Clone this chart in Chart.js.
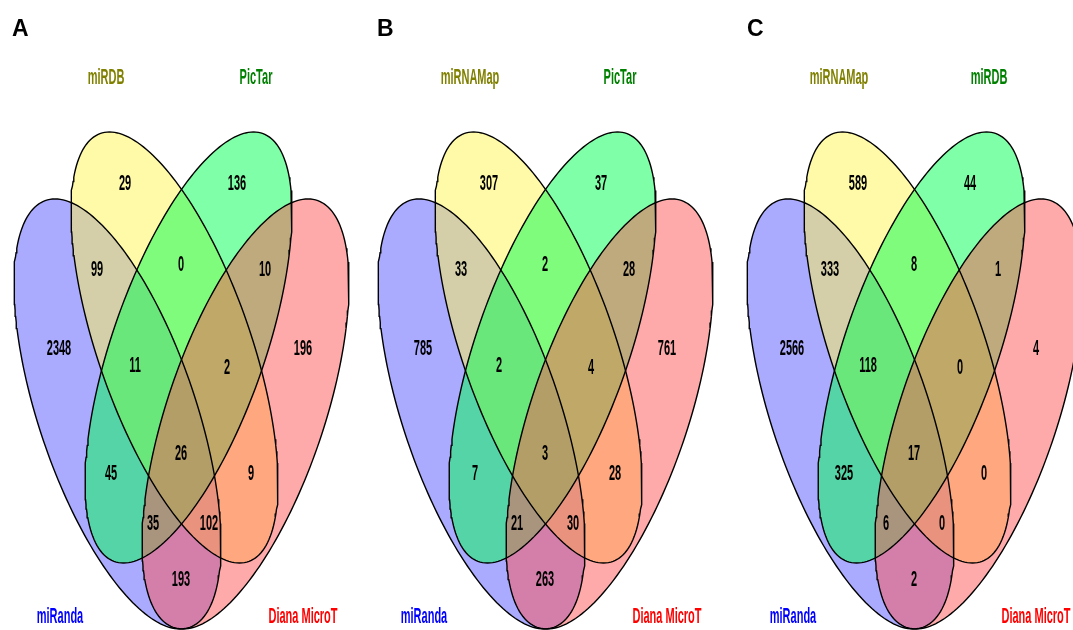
<!DOCTYPE html>
<html>
<head>
<meta charset="utf-8">
<script src="https://cdn.jsdelivr.net/npm/chart.js@4.4.0/dist/chart.umd.min.js"></script>
<style>
html, body { margin: 0; padding: 0; background: #fff; overflow: hidden; }
#wrap { position: relative; width: 1073px; height: 630px; overflow: hidden; }
#wrap canvas { position: absolute; top: 0; }
.tag { position: absolute; top: 17px; font: bold 23px "Liberation Sans", Arial, sans-serif; line-height: 23px; }
</style>
</head>
<body>
<div id="wrap">
  <canvas id="vennA" width="364" height="630" style="left:0px"></canvas>
  <canvas id="vennB" width="364" height="630" style="left:364px"></canvas>
  <canvas id="vennC" width="364" height="630" style="left:733px"></canvas>
  <div class="tag" style="left:12px">A</div>
  <div class="tag" style="left:377px">B</div>
  <div class="tag" style="left:747px">C</div>
</div>
<script>
// set names per panel: outer-left, inner-left, inner-right, outer-right
const setsA = ["miRanda", "miRDB", "PicTar", "Diana MicroT"];
const setsB = ["miRanda", "miRNAMap", "PicTar", "Diana MicroT"];
const setsC = ["miRanda", "miRNAMap", "miRDB", "Diana MicroT"];

// region order (1=outer-left, 2=inner-left, 3=inner-right, 4=outer-right)
const regions = ["1", "2", "3", "4", "12", "23", "34", "123", "234", "13", "1234", "24", "134", "124", "14"];
const countsA = [2348, 29, 136, 196, 99, 0, 10, 11, 2, 45, 26, 9, 35, 102, 193];
const countsB = [785, 307, 37, 761, 33, 2, 28, 2, 4, 7, 3, 28, 21, 30, 263];
const countsC = [2566, 589, 44, 4, 333, 8, 1, 118, 0, 325, 17, 0, 6, 0, 2];

// layout, in panel fractions (x right, y up)
const W = 364, H = 630;
const u = (px, py) => ({x: px / W, y: 1 - py / H});
const regionPos = [[59,349],[125,184],[237,184],[303,349],[97,270],[181,265],[265,270],[135,366],[227,368],[111,474],[181,454],[251,474],[153,524],[209,524],[181,580]].map(p => u(p[0], p[1]));
const namePos = [[60,617],[106,78],[256,78],[303,617]].map(p => u(p[0], p[1]));
const nameColors = ["#0000ff", "#808000", "#008000", "#ff0000"];

const ellipses = [
  {cx: 0.3228, cy: 0.3429, p: -0.1717, w: 0.2266, h: 0.3413, fill: "rgba(85,85,255,0.5)"},
  {cx: 0.4794, cy: 0.4484, p: -0.1786, w: 0.2212, h: 0.3421, fill: "rgba(255,245,81,0.5)"},
  {cx: 0.5179, cy: 0.4484, p: 0.1786, w: 0.2212, h: 0.3421, fill: "rgba(0,255,80,0.5)"},
  {cx: 0.6745, cy: 0.3429, p: 0.1717, w: 0.2266, h: 0.3413, fill: "rgba(255,85,85,0.5)"}
];

function ellipsePoints(e) {
  let pts = [];
  for (let i = 0; i <= 200; i++) {
    let t = i / 200 * 2 * Math.PI;
    pts.push({x: e.cx + e.p * Math.cos(t) + e.w * Math.sin(t), y: e.cy + e.h * Math.cos(t)});
  }
  return pts;
}

const FONT = 'bold 11px "Liberation Sans", Arial, sans-serif';
const STRETCH = 2.05;

const vennText = {
  id: 'vennText',
  afterDatasetsDraw(chart) {
    const ctx = chart.ctx;
    ctx.save();
    ctx.font = FONT;
    ctx.textAlign = 'center';
    ctx.textBaseline = 'middle';
    chart.data.datasets.forEach((ds, i) => {
      if (!ds.texts) return;
      chart.getDatasetMeta(i).data.forEach((pt, j) => {
        ctx.save();
        ctx.translate(pt.x, pt.y);
        ctx.scale(1, STRETCH);
        ctx.fillStyle = ds.textColors ? ds.textColors[j] : '#000';
        ctx.fillText(ds.texts[j], 0, 0);
        ctx.restore();
      });
    });
    ctx.restore();
  }
};

function drawVenn(id, names, counts) {
  let datasets = [];
  // first dataset is drawn on top, so go from outer-right back to outer-left
  for (let i = ellipses.length - 1; i >= 0; i--) {
    datasets.push({
      data: ellipsePoints(ellipses[i]),
      showLine: true,
      fill: 'shape',
      backgroundColor: ellipses[i].fill,
      borderColor: '#000',
      borderWidth: 1.4,
      pointRadius: 0,
      tension: 0
    });
  }
  datasets.push({data: regionPos, texts: counts.map(String), pointRadius: 0, showLine: false});
  datasets.push({data: namePos, texts: names, textColors: nameColors, pointRadius: 0, showLine: false});

  new Chart(document.getElementById(id), {
    type: 'scatter',
    data: {datasets: datasets},
    options: {
      responsive: false,
      animation: false,
      events: [],
      layout: {padding: 0},
      plugins: {
        legend: {display: false},
        tooltip: {enabled: false},
        filler: {drawTime: 'beforeDatasetsDraw'}
      },
      scales: {
        x: {type: 'linear', min: 0, max: 1, display: false},
        y: {type: 'linear', min: 0, max: 1, display: false}
      }
    },
    plugins: [vennText]
  });
}

drawVenn('vennA', setsA, countsA);
drawVenn('vennB', setsB, countsB);
drawVenn('vennC', setsC, countsC);
</script>
</body>
</html>
